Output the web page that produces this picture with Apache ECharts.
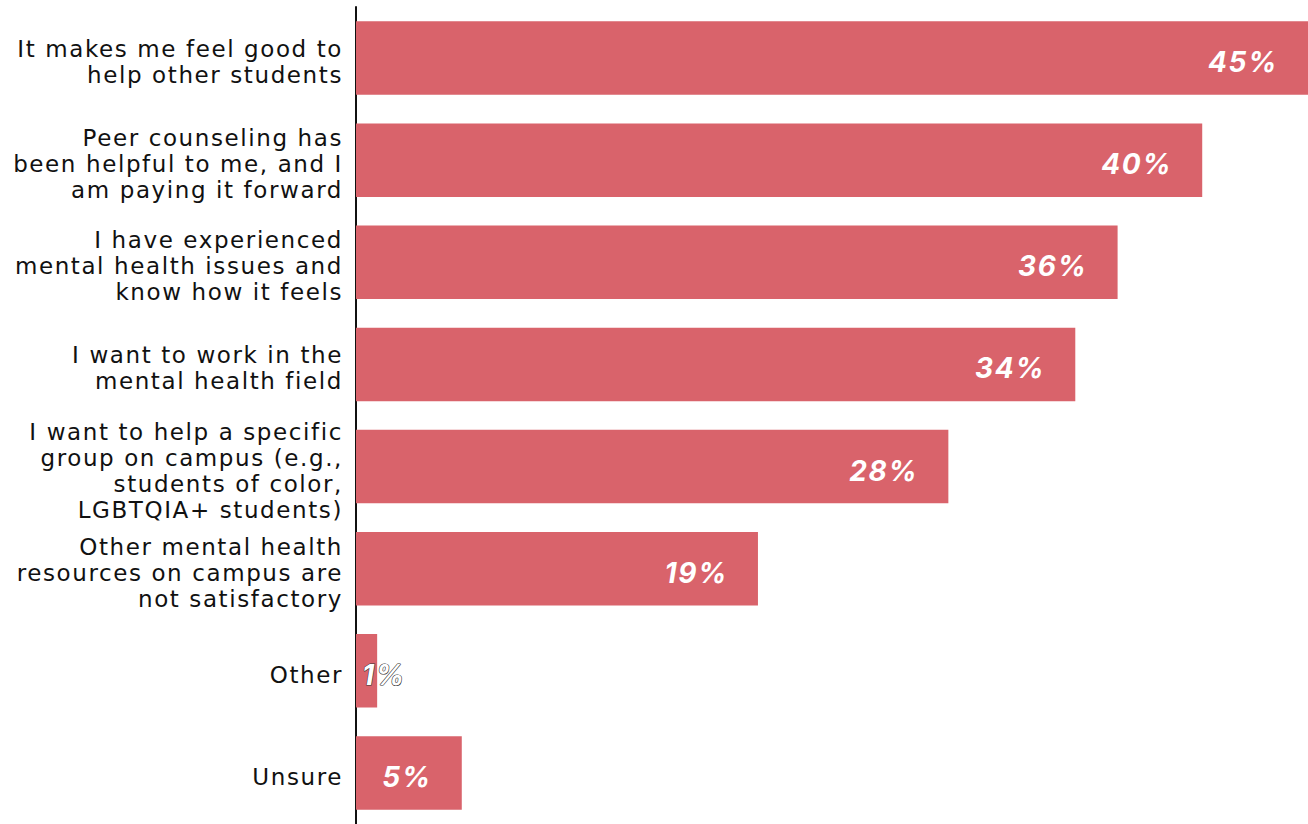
<!DOCTYPE html>
<html>
<head>
<meta charset="utf-8">
<script src="https://cdn.jsdelivr.net/npm/echarts@6/dist/echarts.min.js"></script>
<style>
  html, body { margin: 0; padding: 0; background: #ffffff; }
  #chart { width: 1308px; height: 824px; }
  /* open tracking and a slight downward baseline on all chart text */
  #chart svg text { letter-spacing: 1.6px; translate: 0 4px; }
</style>
</head>
<body>
<div id="chart"></div>
<script>
// Reasons for becoming a peer counselor (share of respondents)
const categories = [
  'It makes me feel good to\nhelp other students',
  'Peer counseling has\nbeen helpful to me, and I\nam paying it forward',
  'I have experienced\nmental health issues and\nknow how it feels',
  'I want to work in the\nmental health field',
  'I want to help a specific\ngroup on campus (e.g.,\nstudents of color,\nLGBTQIA+ students)',
  'Other mental health\nresources on campus are\nnot satisfactory',
  'Other',
  'Unsure'
];
const values = [45, 40, 36, 34, 28, 19, 1, 5];

const barColor = '#d9636b';

const chart = echarts.init(document.getElementById('chart'), null, { renderer: 'svg' });

const seriesData = values.map(function (v) {
  const item = { value: v };
  if (v < 3) {
    // too narrow to hold its label: start it inside the bar, outlined
    item.label = {
      position: [6, '50%'],
      align: 'left',
      verticalAlign: 'middle',
      color: '#ffffff',
      textBorderColor: '#333333',
      textBorderWidth: 1.2
    };
  }
  return item;
});

chart.setOption({
  animation: false,
  grid: { left: 356, right: 0, top: 7, bottom: -5, containLabel: false },
  xAxis: {
    type: 'value',
    min: 0,
    max: 45,
    show: false
  },
  yAxis: {
    type: 'category',
    data: categories,
    inverse: true,
    axisLine: { show: true, lineStyle: { color: '#111111', width: 2 } },
    axisTick: { show: false },
    axisLabel: {
      color: '#111111',
      fontFamily: 'DejaVu Sans',
      fontSize: 23,
      lineHeight: 26,
      align: 'right',
      margin: 13
    },
    splitLine: { show: false }
  },
  series: [{
    type: 'bar',
    data: seriesData,
    barCategoryGap: '28%',
    itemStyle: { color: barColor },
    label: {
      show: true,
      position: 'insideRight',
      distance: 30,
      formatter: '{c}%',
      color: '#ffffff',
      fontFamily: 'Inter',
      fontStyle: 'italic',
      fontWeight: 'bold',
      fontSize: 28
    }
  }]
});
</script>
</body>
</html>
